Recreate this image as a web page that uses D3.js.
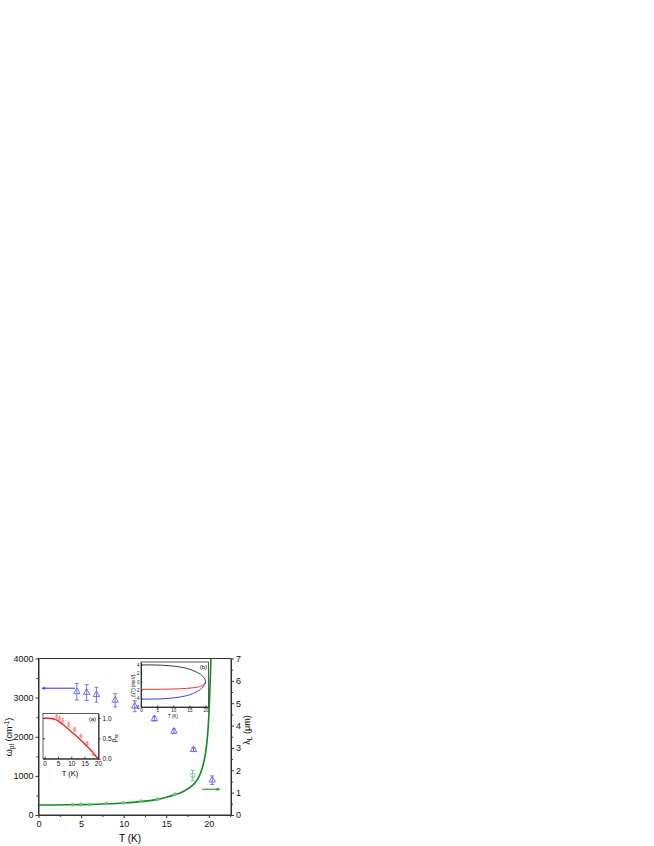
<!DOCTYPE html>
<html>
<head>
<meta charset="utf-8">
<script src="https://cdn.jsdelivr.net/npm/d3@7"></script>
<style>
  body { margin: 0; background: #fff; }
  svg text { font-family: "Liberation Sans", Arial, sans-serif; }
</style>
</head>
<body>
<svg id="chart" width="654" height="846"></svg>
<script>
// main plot: plasma frequency (blue triangles, left axis)
var wT   = [4.5, 5.65, 6.8, 9.0, 11.3, 13.6, 15.9, 18.2, 20.4];
var wVal = [3150, 3130, 3075, 2930, 2780, 2460, 2140, 1670, 890];
var wErr = [210, 200, 190, 170, 140, 60, 60, 50, 110];

// open green circle (left axis)
var gT = [18.1], gVal = [1010], gErr = [130];

// penetration depth points (right axis)
var lamT   = [4, 5, 6, 8, 10, 12, 14, 16];
var lamVal = [0.46, 0.47, 0.47, 0.51, 0.55, 0.61, 0.71, 0.93];

// fitted lambda curve
var fitT   = [0, 2, 4, 6, 8, 10, 12, 14, 15, 16, 17, 18, 18.5, 19, 19.3, 19.6, 19.8, 19.95, 20.05, 20.15, 20.25];
var fitVal = [0.45, 0.45, 0.46, 0.47, 0.5, 0.54, 0.6, 0.7, 0.79, 0.9, 1.05, 1.3, 1.5, 1.85, 2.2, 2.75, 3.35, 4.1, 4.9, 5.9, 7.0];

// inset (a): superfluid density
var rhoT   = [4.5, 5.6, 6.8, 9.0, 11.3, 13.6, 15.9, 18.2];
var rhoVal = [1.03, 0.98, 0.92, 0.84, 0.72, 0.56, 0.38, 0.12];
var rhoErr = [0.07, 0.07, 0.07, 0.06, 0.05, 0.03, 0.03, 0.03];
var rhoFitT   = [0, 2, 3, 4, 5, 6, 8, 10, 12, 14, 16, 18, 20];
var rhoFitVal = [1.0, 0.99, 0.98, 0.96, 0.93, 0.88, 0.78, 0.66, 0.55, 0.43, 0.3, 0.16, 0.0];

// inset (b): three energy curves
var bT     = [0, 3, 6, 9, 12, 14, 16, 17, 18, 18.8, 19.4, 19.8, 20];
var bBlack = [4.0, 4.0, 3.95, 3.8, 3.5, 3.2, 2.7, 2.35, 1.95, 1.5, 1.0, 0.55, 0.0];
var bRed   = [-1.85, -1.85, -1.84, -1.8, -1.72, -1.64, -1.5, -1.4, -1.25, -1.05, -0.75, -0.45, 0.0];
var bBlue  = [-4.2, -4.2, -4.15, -4.0, -3.7, -3.4, -2.9, -2.55, -2.1, -1.6, -1.05, -0.55, 0.0];

var xTicks = [0, 5, 10, 15, 20];
var wTicks = [0, 1000, 2000, 3000, 4000];
var lamTicks = [0, 1, 2, 3, 4, 5, 6, 7];
var rhoTicks = [0.0, 0.5, 1.0];
var bYTicks = [4, 2, 0, -2, -4, -6];

var svg = d3.select("#chart");

var blue = "#6464f0", lgreen = "#6fc285", dgreen = "#138a1c", red = "#f01e1e";
var intFmt = d3.format("d");

// ---- main scales
var x = d3.scaleLinear().domain([0, 22.6]).range([38.5, 231]);
var yL = d3.scaleLinear().domain([0, 4000]).range([815, 658.5]);
var yR = d3.scaleLinear().domain([0, 7]).range([815, 658.5]);

// frame
svg.append("rect").attr("x", 38.5).attr("y", 658.5).attr("width", 231 - 38.5).attr("height", 815 - 658.5)
   .attr("fill", "none").attr("stroke", "#333").attr("stroke-width", 1);

function axisStyle(g, fs) {
    g.select(".domain").attr("stroke", "#333");
    g.selectAll(".tick line").attr("stroke", "#333");
    g.selectAll("text").attr("font-size", fs).attr("fill", "#111").style("font-family", "Liberation Sans, Arial, sans-serif");
}

var gx = svg.append("g").attr("transform", "translate(0,815)")
    .call(d3.axisBottom(x).tickValues(xTicks).tickSize(3).tickSizeOuter(0).tickPadding(3).tickFormat(intFmt));
axisStyle(gx, 9);
svg.append("g").attr("transform", "translate(0,815)")
    .call(d3.axisBottom(x).tickValues([2.5, 7.5, 12.5, 17.5, 22.5]).tickSize(2).tickFormat(""))
    .call(function(g) { g.select(".domain").remove(); g.selectAll("line").attr("stroke", "#333"); });

var gl = svg.append("g").attr("transform", "translate(38.5,0)")
    .call(d3.axisLeft(yL).tickValues(wTicks).tickSize(3).tickSizeOuter(0).tickPadding(2).tickFormat(intFmt));
axisStyle(gl, 9);
svg.append("g").attr("transform", "translate(38.5,0)")
    .call(d3.axisLeft(yL).tickValues([500, 1500, 2500, 3500]).tickSize(2).tickFormat(""))
    .call(function(g) { g.select(".domain").remove(); g.selectAll("line").attr("stroke", "#333"); });

var gr = svg.append("g").attr("transform", "translate(231,0)")
    .call(d3.axisRight(yR).tickValues(lamTicks).tickSize(3).tickSizeOuter(0).tickPadding(2).tickFormat(intFmt));
axisStyle(gr, 9);
svg.append("g").attr("transform", "translate(231,0)")
    .call(d3.axisRight(yR).tickValues([0.5, 1.5, 2.5, 3.5, 4.5, 5.5, 6.5]).tickSize(2).tickFormat(""))
    .call(function(g) { g.select(".domain").remove(); g.selectAll("line").attr("stroke", "#333"); });

// axis titles
svg.append("text").attr("x", 130).attr("y", 842).attr("text-anchor", "middle").attr("font-size", 10)
   .text("T (K)");
var lt = svg.append("text").attr("transform", "translate(12,737) rotate(-90)").attr("text-anchor", "middle").attr("font-size", 9);
lt.append("tspan").text("ω");
lt.append("tspan").attr("font-size", 6.5).attr("dy", 2).text("pl");
lt.append("tspan").attr("dy", -2).text(" (cm");
lt.append("tspan").attr("font-size", 6.5).attr("dy", -3).text("-1");
lt.append("tspan").attr("dy", 3).text(")");
var rt = svg.append("text").attr("transform", "translate(250,730) rotate(-90)").attr("text-anchor", "middle").attr("font-size", 9);
rt.append("tspan").text("λ");
rt.append("tspan").attr("font-size", 6.5).attr("dy", 2).text("L");
rt.append("tspan").attr("dy", -2).text(" (μm)");

// fitted lambda line
var fitData = fitT.map(function(t, i) { return [t, fitVal[i]]; });
svg.append("path").datum(fitData)
   .attr("d", d3.line().x(function(d) { return x(d[0]); }).y(function(d) { return yR(d[1]); }).curve(d3.curveMonotoneX))
   .attr("fill", "none").attr("stroke", dgreen).attr("stroke-width", 1.6);

// lambda points
svg.append("g").selectAll("circle").data(lamT).enter().append("circle")
   .attr("cx", function(d) { return x(d); })
   .attr("cy", function(d, i) { return yR(lamVal[i]); })
   .attr("r", 2).attr("fill", lgreen).attr("opacity", 0.85);

// error bars helper
function errBars(g, xs, ys, es, sx, sy, color, cap, sw) {
    var sel = g.selectAll(null).data(xs).enter().append("g");
    sel.append("line")
       .attr("x1", function(d) { return sx(d); }).attr("x2", function(d) { return sx(d); })
       .attr("y1", function(d, i) { return sy(ys[i] - es[i]); }).attr("y2", function(d, i) { return sy(ys[i] + es[i]); })
       .attr("stroke", color).attr("stroke-width", sw);
    [-1, 1].forEach(function(s) {
        sel.append("line")
           .attr("x1", function(d) { return sx(d) - cap; }).attr("x2", function(d) { return sx(d) + cap; })
           .attr("y1", function(d, i) { return sy(ys[i] + s * es[i]); }).attr("y2", function(d, i) { return sy(ys[i] + s * es[i]); })
           .attr("stroke", color).attr("stroke-width", sw);
    });
}

// blue triangles
var gw = svg.append("g");
errBars(gw, wT, wVal, wErr, x, yL, blue, 2, 0.9);
gw.selectAll("path.tri").data(wT).enter().append("path")
  .attr("transform", function(d, i) { return "translate(" + x(d) + "," + yL(wVal[i]) + ")"; })
  .attr("d", d3.symbol().type(d3.symbolTriangle).size(18))
  .attr("fill", "none").attr("stroke", blue).attr("stroke-width", 0.9);

// open green circle
var gg = svg.append("g");
errBars(gg, gT, gVal, gErr, x, yL, lgreen, 2, 0.9);
gg.selectAll("circle").data(gT).enter().append("circle")
  .attr("cx", function(d) { return x(d); }).attr("cy", function(d, i) { return yL(gVal[i]); })
  .attr("r", 2.2).attr("fill", "none").attr("stroke", lgreen).attr("stroke-width", 0.9);

// arrows
function arrow(x1, x2, yy, color) {
    var dir = x2 > x1 ? 1 : -1;
    svg.append("line").attr("x1", x1).attr("x2", x2 - dir * 3).attr("y1", yy).attr("y2", yy)
       .attr("stroke", color).attr("stroke-width", 1.2);
    svg.append("path").attr("d", "M" + x2 + "," + yy + "L" + (x2 - dir * 4) + "," + (yy - 1.8) + "L" + (x2 - dir * 4) + "," + (yy + 1.8) + "Z")
       .attr("fill", color);
}
arrow(x(4.3), x(0.3), yL(3240), "#4b4bf5");
arrow(x(19.2), x(21.4), yR(1.15), "#2f9a38");

// ---- inset (a)
var xa = d3.scaleLinear().domain([-0.6, 20.2]).range([43, 98.5]);
var ya = d3.scaleLinear().domain([0, 1.11]).range([758.7, 713.5]);
svg.append("rect").attr("x", 43).attr("y", 713.5).attr("width", 98.5 - 43).attr("height", 758.7 - 713.5)
   .attr("fill", "#fff").attr("stroke", "#333").attr("stroke-width", 0.8);
var gax = svg.append("g").attr("transform", "translate(0,758.7)")
    .call(d3.axisBottom(xa).tickValues(xTicks).tickSize(-2).tickSizeOuter(0).tickPadding(3).tickFormat(intFmt));
axisStyle(gax, 6.5);
var gay = svg.append("g").attr("transform", "translate(98.5,0)")
    .call(d3.axisRight(ya).tickValues(rhoTicks).tickSize(2).tickSizeOuter(0).tickPadding(2).tickFormat(d3.format(".1f")));
axisStyle(gay, 6.5);
svg.append("g").attr("transform", "translate(43,0)")
    .call(d3.axisLeft(ya).tickValues(rhoTicks).tickSize(-2).tickSizeOuter(0).tickFormat(""))
    .call(function(g) { g.select(".domain").remove(); g.selectAll("line").attr("stroke", "#333"); });
svg.append("text").attr("x", 70).attr("y", 776).attr("text-anchor", "middle").attr("font-size", 7.5).text("T (K)");
var at = svg.append("text").attr("transform", "translate(116,738) rotate(-90)").attr("text-anchor", "middle").attr("font-size", 7);
at.append("tspan").text("ρ");
at.append("tspan").attr("font-size", 5).attr("dy", 1.5).text("sc");
svg.append("text").attr("x", 96).attr("y", 721).attr("text-anchor", "end").attr("font-size", 6).text("(a)");

var rhoFit = rhoFitT.map(function(t, i) { return [t, rhoFitVal[i]]; });
svg.append("path").datum(rhoFit)
   .attr("d", d3.line().x(function(d) { return xa(d[0]); }).y(function(d) { return ya(d[1]); }).curve(d3.curveMonotoneX))
   .attr("fill", "none").attr("stroke", red).attr("stroke-width", 1.4);
var gra = svg.append("g");
errBars(gra, rhoT, rhoVal, rhoErr, xa, ya, "#f07070", 1.2, 0.7);
gra.selectAll("circle").data(rhoT).enter().append("circle")
   .attr("cx", function(d) { return xa(d); }).attr("cy", function(d, i) { return ya(rhoVal[i]); })
   .attr("r", 1.3).attr("fill", "none").attr("stroke", "#f07070").attr("stroke-width", 0.7);

// ---- inset (b)
var xb = d3.scaleLinear().domain([0, 20.9]).range([141, 208.5]);
var yb = d3.scaleLinear().domain([-6.1, 4.7]).range([707, 662]);
svg.append("rect").attr("x", 141).attr("y", 662).attr("width", 208.5 - 141).attr("height", 707 - 662)
   .attr("fill", "#fff").attr("stroke", "#333").attr("stroke-width", 0.8);
var gbx = svg.append("g").attr("transform", "translate(0,707)")
    .call(d3.axisBottom(xb).tickValues(xTicks).tickSize(-1.5).tickSizeOuter(0).tickPadding(2).tickFormat(intFmt));
axisStyle(gbx, 4.5);
var gby = svg.append("g").attr("transform", "translate(141,0)")
    .call(d3.axisLeft(yb).tickValues(bYTicks).tickSize(-1.5).tickSizeOuter(0).tickPadding(1.5).tickFormat(intFmt));
axisStyle(gby, 4.5);
svg.append("text").attr("x", 173).attr("y", 717.5).attr("text-anchor", "middle").attr("font-size", 4.5).text("T (K)");
svg.append("text").attr("transform", "translate(134.5,686) rotate(-90)").attr("text-anchor", "middle").attr("font-size", 4.5)
   .text("Δ(T) (meV)");
svg.append("text").attr("x", 207).attr("y", 669).attr("text-anchor", "end").attr("font-size", 6).text("(b)");

var lineB = d3.line().x(function(d) { return xb(d[0]); }).y(function(d) { return yb(d[1]); }).curve(d3.curveMonotoneX);
[[bBlack, "#222"], [bRed, red], [bBlue, "#2828f0"]].forEach(function(c) {
    svg.append("path").datum(bT.map(function(t, i) { return [t, c[0][i]]; }))
       .attr("d", lineB).attr("fill", "none").attr("stroke", c[1]).attr("stroke-width", 0.9);
});
</script>
</body>
</html>
